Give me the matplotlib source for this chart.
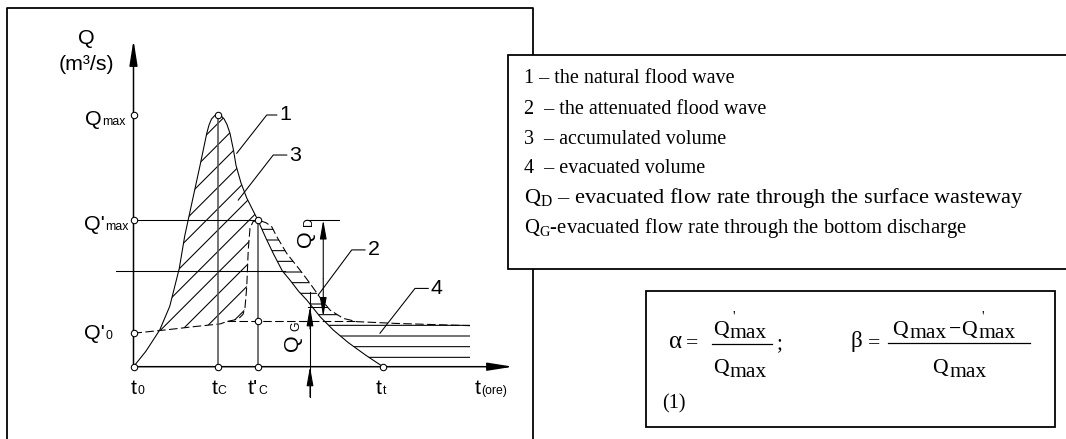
import numpy as np
import matplotlib
matplotlib.use("Agg")
import matplotlib.pyplot as plt
from matplotlib import transforms as mtransforms
from matplotlib.patches import Rectangle
from matplotlib.lines import Line2D

# ---------------- data (schematic units: time t, discharge Q) ----------------
t_natural = [0.0, 0.5, 1.05, 1.45, 1.83, 2.05, 2.36, 2.66, 2.93, 3.02, 3.12, 3.24, 3.37,
             3.5, 3.62, 3.74, 3.86, 4.0, 4.1, 4.3, 4.53, 4.97, 5.3, 5.59, 5.95, 6.26,
             6.6, 6.93, 7.46, 8.0, 8.6, 9.3, 9.98]
q_natural = [0.0, 0.62, 1.46, 2.4, 3.9, 5.2, 6.62, 7.99, 9.27, 9.6, 9.84, 9.97, 10.0,
             9.97, 9.85, 9.62, 9.27, 8.6, 8.0, 7.3, 6.7, 5.83, 5.1, 4.5, 3.81, 3.44,
             3.0, 2.65, 1.99, 1.45, 0.95, 0.45, 0.0]

t_attenuated = [0.0, 1.27, 2.5, 3.47, 3.75, 4.05, 4.25, 4.38, 4.46, 4.53, 4.59, 4.66,
                4.78, 4.97, 5.06, 5.3, 5.53, 5.73, 6.13, 6.66, 7.06, 7.53, 7.86, 8.39,
                8.93, 10.5, 13.46]
q_attenuated = [1.33, 1.46, 1.6, 1.7, 1.8, 1.86, 1.95, 2.08, 2.35, 3.18, 4.64, 5.5,
                5.76, 5.83, 5.8, 5.72, 5.56, 5.17, 4.5, 3.84, 3.31, 2.65, 2.25, 1.92,
                1.79, 1.72, 1.63]

t_base = [3.75, 8.93]
q_base = [1.81, 1.81]

T0, TC, TC_ATT, TT, T_END = 0.0, 3.39, 4.97, 9.98, 13.46
Q_MAX, Q_MAX_ATT, Q0_ATT, Q_BASE = 10.0, 5.83, 1.33, 1.81
Q_REF_LINE = 3.81
T_QG, T_QD = 7.06, 7.59
Q_QD_LOW, Q_QG_TOP = 1.99, 2.38

legend_lines = [
    "1 \u2013 the natural flood wave",
    "2  \u2013 the attenuated flood wave",
    "3  \u2013 accumulated volume",
    "4  \u2013 evacuated volume",
    "Q$_{\\mathrm{D}}$ \u2013 evacuated flow rate through the surface wasteway",
    "Q$_{\\mathrm{G}}$-evacuated flow rate through the bottom discharge",
]
legend_sizes = [11.3, 11.3, 11.3, 11.3, 12.6, 11.6]
legend_y = [78.3, 109.3, 139.3, 168.3, 198.3, 228.3]

# ---------------- figure setup ----------------
W, H, DPI = 1066, 439, 128
plt.rcParams.update({
    "font.family": ["Liberation Sans", "DejaVu Sans"],
    "mathtext.fontset": "custom",
    "mathtext.rm": "Liberation Serif",
    "mathtext.it": "Liberation Serif",
    "mathtext.bf": "Liberation Serif:bold",
    "hatch.linewidth": 0.6,
    "lines.scale_dashes": False,
})
fig = plt.figure(figsize=(W / DPI, H / DPI), dpi=DPI)
fig.patch.set_facecolor("white")
PX = mtransforms.Affine2D().scale(1 / W, -1 / H).translate(0, 1) + fig.transFigure

SERIF = ["Liberation Serif", "DejaVu Serif"]
SANS = ["Liberation Sans", "DejaVu Sans"]
BIG, SMALL = 12.0, 6.9
SERIF_SIZE = 11.3
FORM_SIZE = 12.2

# diagram axes: origin at pixel (133.5, 366.7), 25 px per t unit, 25.17 px per Q unit
X0, Y0, SX, SY = 133.5, 366.7, 25.0, 25.17
xlim, ylim = (-5.2, 16.0), (-2.8, 14.5)
left, right = X0 + SX * xlim[0], X0 + SX * xlim[1]
bottom, top = Y0 - SY * ylim[0], Y0 - SY * ylim[1]
ax = fig.add_axes([left / W, 1 - bottom / H, (right - left) / W, (bottom - top) / H])
ax.set_xlim(xlim)
ax.set_ylim(ylim)
ax.axis("off")


def off(dx, dy):
    return ax.transData + mtransforms.ScaledTranslation(dx / DPI, -dy / DPI, fig.dpi_scale_trans)


LW = 0.6
DASH = (0, (4.8, 1.9))

# ---------------- hatched areas ----------------
tg = np.linspace(0, T_END, 3000)
nat_g = np.interp(tg, t_natural, q_natural, right=0.0)
att_g = np.interp(tg, t_attenuated, q_attenuated)

ax.fill_between(tg, att_g, nat_g, where=(nat_g > att_g) & (tg <= TC_ATT),
                facecolor="none", edgecolor="k", linewidth=0, hatch="//", interpolate=True)
lo2 = np.maximum(nat_g, Q_BASE)
ax.fill_between(tg, lo2, att_g, where=(att_g > lo2) & (tg >= TC_ATT) & (tg <= 9.0),
                facecolor="none", edgecolor="k", linewidth=0, hatch="--", interpolate=True)
top4 = np.full_like(tg, 1.7)
ax.fill_between(tg, nat_g, top4, where=(top4 > nat_g) & (tg >= 7.0),
                facecolor="none", edgecolor="k", linewidth=0, hatch="--", interpolate=True)

# ---------------- curves ----------------
ax.plot(t_natural, q_natural, color="k", lw=LW)
ax.plot(t_attenuated, q_attenuated, color="k", lw=LW, ls=DASH)
ax.plot(t_base, q_base, color="k", lw=LW, ls=DASH)

# guide lines
ax.plot([TC, TC], [0, Q_MAX], color="#555555", lw=0.9)
ax.plot([TC_ATT, TC_ATT], [0, Q_MAX_ATT], color="#555555", lw=0.9)
ax.plot([0, TC_ATT], [Q_MAX_ATT, Q_MAX_ATT], color="k", lw=LW)
ax.plot([-0.7, 6.06], [Q_REF_LINE, Q_REF_LINE], color="k", lw=LW)

# axes arrows
akw = dict(arrowstyle="-|>,head_length=12,head_width=1.9", mutation_scale=1,
           lw=0.85, color="k", shrinkA=0, shrinkB=0)
ax.annotate("", xy=(15.18, 0), xytext=(0, 0), arrowprops=akw)
ax.annotate("", xy=(0, 12.98), xytext=(0, 0), arrowprops=akw)

# dimension lines QD / QG
dkw = dict(arrowstyle="-|>,head_length=9,head_width=1.6", mutation_scale=1,
           lw=0.6, color="k", shrinkA=0, shrinkB=0)
ax.plot([6.98, 8.22], [Q_MAX_ATT, Q_MAX_ATT], color="k", lw=LW)
ax.plot([6.98, 7.74], [Q_QG_TOP, Q_QG_TOP], color="k", lw=LW)
ax.annotate("", xy=(T_QD, Q_MAX_ATT), xytext=(T_QD, 3.5), arrowprops=dkw)
ax.annotate("", xy=(T_QD, Q_QD_LOW), xytext=(T_QD, 3.5), arrowprops=dkw)
ax.plot([T_QG, T_QG], [2.95, -1.2], color="k", lw=LW)
ax.annotate("", xy=(T_QG, Q_QG_TOP), xytext=(T_QG, 1.5), arrowprops=dkw)
ax.annotate("", xy=(T_QG, 0), xytext=(T_QG, -1.2), arrowprops=dkw)

# circle markers
mk = dict(marker="o", ms=3.6, mfc="white", mec="k", mew=0.6, ls="none", zorder=5)
ax.plot([0, 0, 0, 0], [0, Q0_ATT, Q_MAX_ATT, Q_MAX], **mk)
ax.plot([TC, TC_ATT, TC_ATT, TC_ATT, TC, TT],
        [Q_MAX, Q_MAX_ATT, Q_BASE, 0, 0, 0], **mk)

# leader lines with labels
leaders = [("1", [(4.13, 8.48), (5.33, 10.0), (5.73, 10.0)]),
           ("3", [(4.19, 6.62), (5.59, 8.41), (6.13, 8.41)]),
           ("2", [(7.39, 2.85), (8.73, 4.64), (9.26, 4.64)]),
           ("4", [(9.86, 1.33), (11.26, 3.11), (11.79, 3.11)])]
for lab, pts in leaders:
    xs, ys = zip(*pts)
    ax.plot(xs, ys, color="k", lw=LW)
    ax.text(xs[-1], ys[-1], lab, transform=off(2.5, 0), ha="left", va="center",
            fontsize=BIG, family=SANS)


def two_part(x, y, big, small, dx, dy):
    ax.text(x, y, big, transform=off(dx, dy), ha="right", va="baseline",
            fontsize=BIG, family=SANS)
    ax.text(x, y, small, transform=off(dx + 0.5, dy), ha="left", va="baseline",
            fontsize=SMALL, family=SANS)


# y labels
two_part(0, Q_MAX, "Q", "max", -31.5, 10)
two_part(0, Q_MAX_ATT, "Q'", "max", -28.5, 10)
two_part(0, Q0_ATT, "Q'", "0", -28.5, 5.5)
# x labels
two_part(T0, 0, "t", "0", 3.5, 27)
two_part(TC, 0, "t", "C", -1, 27)
two_part(TC_ATT, 0, "t'", "C", 0, 27)
two_part(TT, 0, "t", "t", -1, 27)
two_part(13.88, 0, "t", "(ore)", 0, 27)

# QD / QG rotated labels (subscript sits on the baseline side, i.e. to the right)
ax.text(T_QD, 5.1, "Q", transform=off(-18, 0), rotation=90, ha="center", va="center",
        fontsize=BIG, family=SANS)
ax.text(T_QD, 5.1, "D", transform=off(-14, -17), rotation=90, ha="center", va="center",
        fontsize=SMALL, family=SANS)
ax.text(T_QG, 0.95, "Q", transform=off(-18, 0), rotation=90, ha="center", va="center",
        fontsize=BIG, family=SANS)
ax.text(T_QG, 0.95, "G", transform=off(-14, -17), rotation=90, ha="center", va="center",
        fontsize=SMALL, family=SANS)

# axis title
fig.text(86, 38, "Q", transform=PX, ha="center", va="center", fontsize=BIG, family=SANS)
fig.text(86, 65, "(m\u00b3/s)", transform=PX, ha="center", va="center", fontsize=BIG, family=SANS)

# ---------------- frames ----------------
fig.add_artist(Line2D([6.5, 6.5, 533, 533], [445, 7.5, 7.5, 445], transform=PX,
                      color="k", lw=1.0))
fig.add_artist(Rectangle((507.5, 55), 620, 214, transform=PX, facecolor="white",
                         edgecolor="k", lw=1.0, zorder=3))
fig.add_artist(Rectangle((646, 291), 409, 136, transform=PX, facecolor="white",
                         edgecolor="k", lw=1.0, zorder=3))

# legend text
for y, s, fs in zip(legend_y, legend_lines, legend_sizes):
    fig.text(524, y, s, transform=PX, ha="left", va="center", fontsize=fs,
             family=SERIF, zorder=4)


# ---------------- formula ----------------
def ft(x, y, s, size=FORM_SIZE, ha="left"):
    fig.text(x, y, s, transform=PX, ha=ha, va="baseline", fontsize=size, family=SERIF, zorder=4)


def qmax(x, yb, prime=False):
    ft(x, yb, "Q")
    ft(x + 17.3, yb + 3.3, "max")
    if prime:
        ft(x + 20, yb - 14, "'", size=8)


ft(669, 348, "\u03b1", size=14)
ft(686, 348, "=")
qmax(712.7, 335, prime=True)
fig.add_artist(Line2D([711.7, 771.7], [344.3, 344.3], transform=PX, color="k", lw=0.7, zorder=4))
qmax(712.7, 373.3)
ft(776.7, 348, ";")
ft(662, 408.3, "(1)", size=SERIF_SIZE)

ft(851, 346.7, "\u03b2", size=13)
ft(868, 348, "=")
qmax(891.7, 335)
ft(949, 335, "\u2212")
qmax(961, 335, prime=True)
fig.add_artist(Line2D([888.3, 1030], [343.3, 343.3], transform=PX, color="k", lw=0.7, zorder=4))
qmax(931.7, 373.3)

fig.savefig("out.png", dpi=DPI, facecolor="white")
